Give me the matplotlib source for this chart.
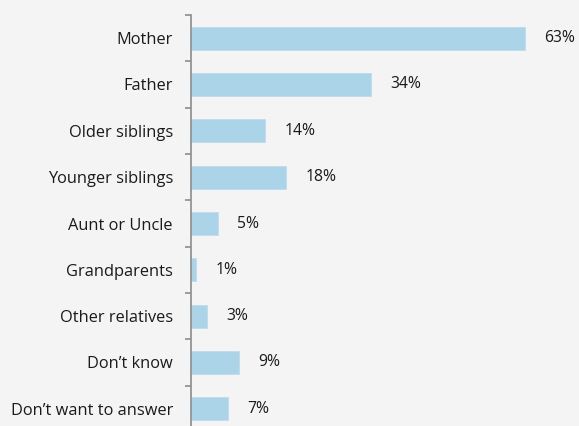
import matplotlib
matplotlib.use("Agg")
import matplotlib.pyplot as plt
import numpy as np

categories = ["Mother", "Father", "Older siblings", "Younger siblings", "Aunt or Uncle",
              "Grandparents", "Other relatives", "Don\u2019t know", "Don\u2019t want to answer"]
values = [63, 34, 14, 18, 5, 1, 3, 9, 7]
value_labels = ["63%", "34%", "14%", "18%", "5%", "1%", "3%", "9%", "7%"]

plt.rcParams['font.family'] = ['Open Sans', 'DejaVu Sans']
bg = "#f4f4f4"
fig = plt.figure(figsize=(5.79, 4.26), dpi=100, facecolor=bg)
ax = fig.add_axes([191/579, -6/426, 371/579, 417/426], facecolor=bg)

y = np.arange(len(categories))
ax.barh(y, values, height=0.5, color="#acd4e8", edgecolor="#bcdcec", linewidth=0.6)
ax.set_ylim(len(categories) - 0.5, -0.5)
ax.set_xlim(0, 70)
ax.set_yticks(y)
ax.set_yticklabels(categories, fontsize=11.8, color="#1a1a1a")
ax.set_yticks(np.arange(len(categories) + 1) - 0.5, minor=True)
ax.tick_params(axis='y', which='major', length=0, pad=13)
ax.tick_params(axis='y', which='minor', length=4, width=1.2, color="#8c8c8c", direction='out')
ax.set_xticks([])
for s in ["top", "right", "bottom"]:
    ax.spines[s].set_visible(False)
ax.spines["left"].set_color("#8c8c8c")
ax.spines["left"].set_linewidth(1.2)

for yi, v, lab in zip(y, values, value_labels):
    ax.annotate(lab, (v, yi), xytext=(14, 0), textcoords="offset points",
                va="center", ha="left", fontsize=11.3, color="#1a1a1a")

fig.savefig("out.png", dpi=100, facecolor=bg)
